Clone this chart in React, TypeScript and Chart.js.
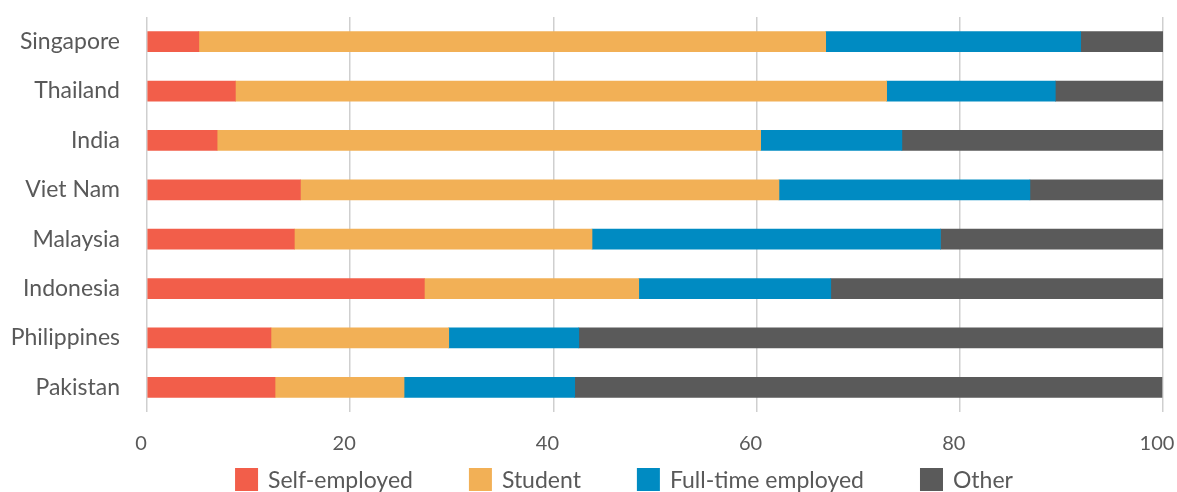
import React, { useEffect, useRef } from 'react';
import { Chart, registerables } from 'chart.js';

Chart.register(...registerables);

const categories = ['Singapore', 'Thailand', 'India', 'Viet Nam', 'Malaysia', 'Indonesia', 'Philippines', 'Pakistan'];
const seriesNames = ['Self-employed', 'Student', 'Full-time employed', 'Other'];
const selfEmployed = [5.1, 8.7, 6.9, 15.1, 14.5, 27.3, 12.2, 12.6];
const student = [61.7, 64.1, 53.5, 47.1, 29.3, 21.1, 17.5, 12.7];
const fullTime = [25.1, 16.6, 13.9, 24.7, 34.3, 18.9, 12.8, 16.8];
const other = [8.1, 10.6, 25.7, 13.1, 21.9, 32.7, 57.5, 57.8];
const xTickValues = [0, 20, 40, 60, 80, 100];

const colors = ['#F25E4A', '#F2B056', '#008BC2', '#5A5A5A'];
const FONT = "Lato, 'Noto Sans', sans-serif";
const TEXT = '#595959';

const legendPlugin = {
  id: 'customLegend',
  afterDraw(chart: any) {
    const ctx = chart.ctx;
    const box = 23;
    const gapText = 10;
    const gapItem = 56;
    ctx.save();
    ctx.font = `23px ${FONT}`;
    const items = chart.data.datasets.map((ds: any) => ({
      label: ds.label,
      color: ds.backgroundColor,
      w: ctx.measureText(ds.label).width,
    }));
    const total = items.reduce((s: number, it: any) => s + box + gapText + it.w, 0) + gapItem * (items.length - 1);
    let x = 624 - total / 2;
    const top = chart.height - 24;
    ctx.textBaseline = 'middle';
    ctx.textAlign = 'left';
    for (const it of items) {
      ctx.fillStyle = it.color;
      ctx.fillRect(x, top, box, box);
      ctx.fillStyle = TEXT;
      ctx.fillText(it.label, x + box + gapText, top + box / 2 + 1);
      x += box + gapText + it.w + gapItem;
    }
    ctx.restore();
  },
};

export default function App() {
  const ref = useRef<HTMLCanvasElement>(null);
  useEffect(() => {
    document.body.style.margin = '0';
    const seriesValues = [selfEmployed, student, fullTime, other];
    const chart = new Chart(ref.current as HTMLCanvasElement, {
      type: 'bar',
      data: {
        labels: categories,
        datasets: seriesNames.map((name, i) => ({
          label: name,
          data: seriesValues[i],
          backgroundColor: colors[i],
          borderWidth: 0,
          barThickness: 20,
        })),
      },
      options: {
        indexAxis: 'y',
        responsive: false,
        animation: false,
        layout: { padding: { top: 17, right: 14, bottom: 36, left: 0 } },
        plugins: {
          legend: { display: false },
          tooltip: { enabled: false },
        },
        scales: {
          x: {
            stacked: true,
            min: 0,
            max: 100,
            afterBuildTicks: (scale: any) => {
              scale.ticks = xTickValues.map((v) => ({ value: v }));
            },
            afterFit: (scale: any) => {
              scale.paddingRight = 0;
              scale.paddingLeft = 0;
              scale.height = 44;
            },
            grid: { color: '#cfcfcf', lineWidth: 1.5, drawTicks: false },
            border: { display: false },
            ticks: { color: TEXT, font: { family: FONT, size: 20 }, padding: 20, labelOffset: -6 },
          },
          y: {
            stacked: true,
            afterFit: (scale: any) => {
              scale.width = 147;
              scale.paddingTop = 0;
              scale.paddingBottom = 0;
            },
            grid: { display: false, drawTicks: false },
            border: { display: false },
            ticks: { color: TEXT, font: { family: FONT, size: 23 }, padding: 27 },
          },
        },
      },
      plugins: [legendPlugin],
    });
    return () => chart.destroy();
  }, []);
  return (
    <div style={{ width: 1177, height: 492 }}>
      <canvas ref={ref} width={1177} height={492} />
    </div>
  );
}
